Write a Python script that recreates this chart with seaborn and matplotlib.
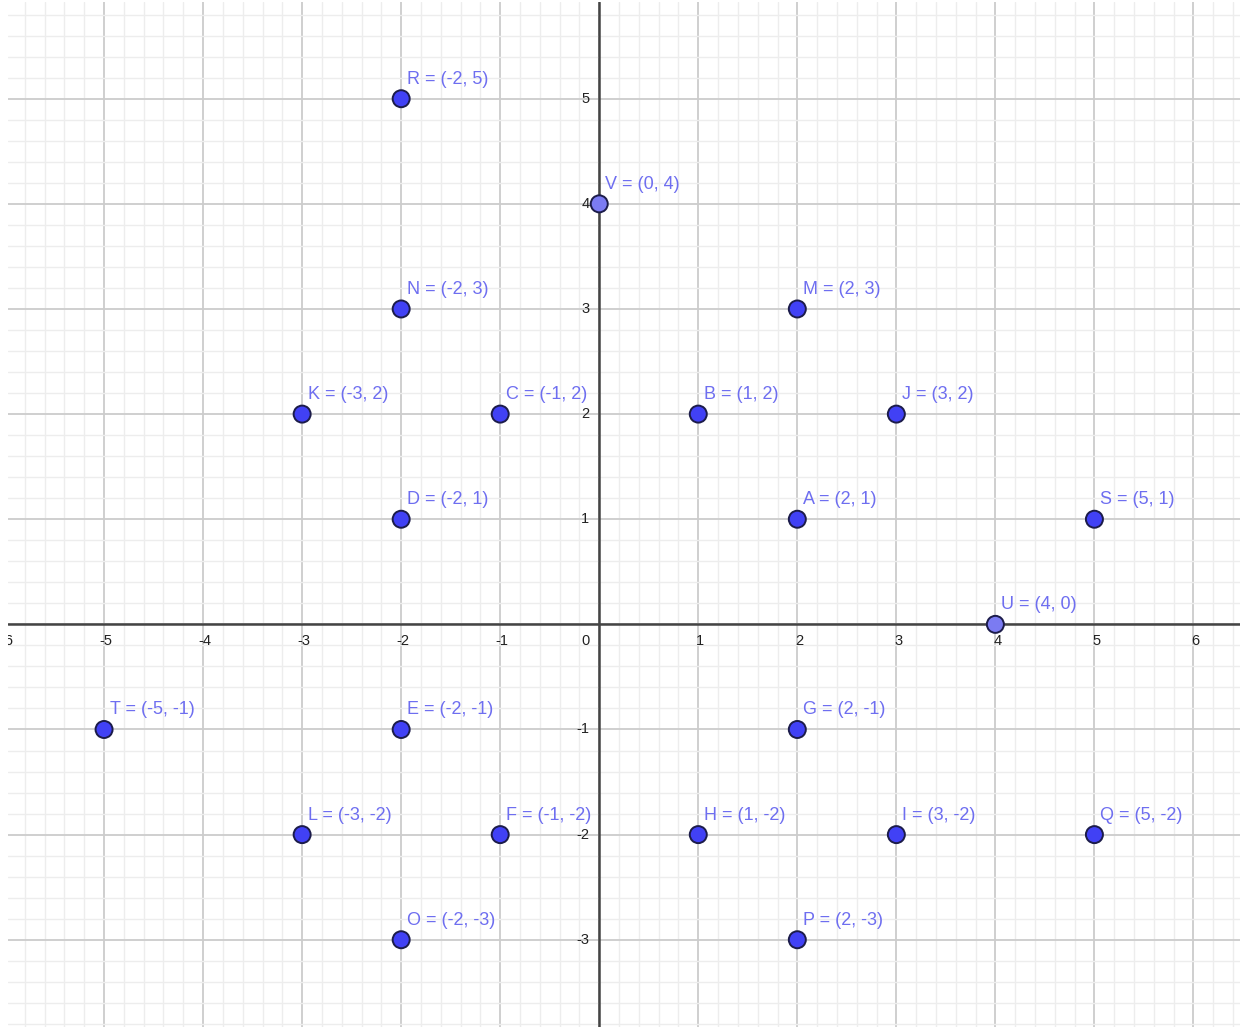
import numpy as np
import pandas as pd
import seaborn as sns
import matplotlib.pyplot as plt
from matplotlib.ticker import MultipleLocator

# titik-titik pada bidang koordinat
names = ['A', 'B', 'C', 'D', 'E', 'F', 'G', 'H', 'I', 'J', 'K',
         'L', 'M', 'N', 'O', 'P', 'Q', 'R', 'S', 'T', 'U', 'V']
xs = [2, 1, -1, -2, -2, -1, 2, 1, 3, 3, -3, -3, 2, -2, -2, 2, 5, -2, 5, -5, 4, 0]
ys = [1, 2, 2, 1, -1, -2, -1, -2, -2, 2, 2, -2, 3, 3, -3, -3, -2, 5, 1, -1, 0, 4]
kind = ['bebas'] * 20 + ['pada sumbu'] * 2

x_ticks = [-6, -5, -4, -3, -2, -1, 1, 2, 3, 4, 5, 6]
y_ticks = [-3, -2, -1, 1, 2, 3, 4, 5]

df = pd.DataFrame({'nama': names, 'x': xs, 'y': ys, 'jenis': kind})

sns.set_style("white")
plt.rcParams['font.family'] = ['Liberation Sans', 'DejaVu Sans']

fig = plt.figure(figsize=(12.44, 10.29), dpi=100)
ax = fig.add_axes([8 / 1244, 2 / 1029, 1232 / 1244, 1025 / 1029])

ax.set_xlim(-5.97, 6.47)
ax.set_ylim(-3.83, 5.92)

# grid
ax.xaxis.set_major_locator(MultipleLocator(1))
ax.yaxis.set_major_locator(MultipleLocator(1))
ax.xaxis.set_minor_locator(MultipleLocator(0.2))
ax.yaxis.set_minor_locator(MultipleLocator(0.2))
ax.grid(which='major', color='#cccccc', linewidth=1.3, zorder=0)
ax.grid(which='minor', color='#ededed', linewidth=1.0, zorder=0)
ax.set_axisbelow(True)
ax.tick_params(which='both', length=0, labelbottom=False, labelleft=False)
for s in ax.spines.values():
    s.set_visible(False)

# sumbu
ax.axhline(0, color='#444444', linewidth=1.8, zorder=1)
ax.axvline(0, color='#444444', linewidth=1.8, zorder=1)

# label sumbu
for t in x_ticks:
    ax.text(t + 0.02, -0.09, str(t), ha='center', va='top', fontsize=10.5,
            color='#222222', clip_on=True)
ax.text(-0.1, -0.09, '0', ha='right', va='top', fontsize=10.5, color='#222222')
for t in y_ticks:
    ax.text(-0.1, t, str(t), ha='right', va='center', fontsize=10.5, color='#222222')

# titik
sns.scatterplot(data=df, x='x', y='y', hue='jenis',
                palette={'bebas': '#4141f5', 'pada sumbu': '#7b7bf2'},
                s=150, edgecolor='#1c1c4a', linewidth=1.4, legend=False,
                zorder=5, ax=ax, clip_on=False)

for n, x, y in zip(names, xs, ys):
    ax.annotate(f"{n} = ({x}, {y})", (x, y), xytext=(4, 8), textcoords='offset points',
                ha='left', va='bottom', fontsize=13, color='#6e6ef0', zorder=6)

ax.set_xlabel('')
ax.set_ylabel('')

fig.savefig('out.png', dpi=100)
